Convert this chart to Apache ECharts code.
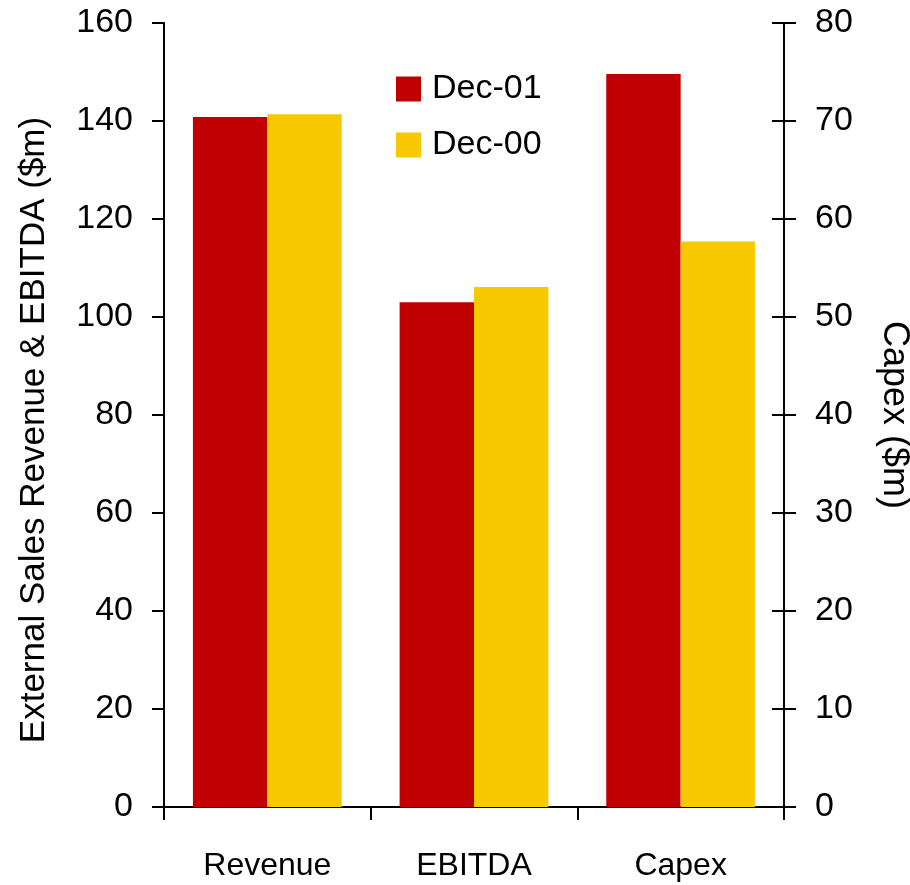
<!DOCTYPE html>
<html>
<head>
<meta charset="utf-8">
<script src="https://cdn.jsdelivr.net/npm/echarts@6/dist/echarts.min.js"></script>
<style>html,body{margin:0;padding:0;background:#fff}#c{width:910px;height:885px}</style>
</head>
<body>
<div id="c"></div>
<script>
var categories = ['Revenue', 'EBITDA', 'Capex'];
var dec01 = [140.8, 103.0, 74.8];
var dec00 = [141.4, 106.1, 57.7];
var leftTicks = [0, 20, 40, 60, 80, 100, 120, 140, 160];
var rightTicks = [0, 10, 20, 30, 40, 50, 60, 70, 80];

var FONT = '"Liberation Sans", Arial, sans-serif';
var RED = '#C00000', YEL = '#F8C800';

function leftPart(arr) { return arr.map(function (v, i) { return i < 2 ? v : '-'; }); }
function rightPart(arr) { return arr.map(function (v, i) { return i === 2 ? v : '-'; }); }

var chart = echarts.init(document.getElementById('c'), null, { renderer: 'canvas' });
var axisLine = { show: true, lineStyle: { color: '#000', width: 2 } };
chart.setOption({
  animation: false,
  textStyle: { fontFamily: FONT },
  grid: { left: 164, right: 126, top: 23, bottom: 78, containLabel: false, outerBoundsMode: 'none' },
  legend: {
    left: 396, top: 72, padding: 0, orient: 'vertical', itemWidth: 25, itemHeight: 25, itemGap: 22,
    icon: 'rect',
    data: ['Dec-01', 'Dec-00'],
    textStyle: { fontFamily: FONT, fontSize: 34, color: '#000', padding: [0, 0, 0, 6] }
  },
  xAxis: [
    {
      type: 'category', data: categories, position: 'bottom',
      axisLine: axisLine,
      axisTick: { show: true, length: 13, lineStyle: { color: '#000', width: 2 } },
      axisLabel: { fontFamily: FONT, fontSize: 32, color: '#000', margin: 43 }
    },
    {
      type: 'category', data: categories, position: 'top',
      axisLine: axisLine,
      axisTick: { show: false }, axisLabel: { show: false }
    }
  ],
  yAxis: [
    {
      type: 'value', min: 0, max: 160, interval: 20, position: 'left',
      name: 'External Sales Revenue & EBITDA ($m)', nameLocation: 'middle', nameGap: 112, nameRotate: 90,
      nameTextStyle: { fontFamily: FONT, fontSize: 35, color: '#000', padding: [0, 30, 0, 0] },
      axisLine: axisLine,
      axisTick: { show: true, length: 12, lineStyle: { color: '#000', width: 2 } },
      axisLabel: { fontFamily: FONT, fontSize: 34, color: '#000', margin: 31,
        formatter: function (v) { return leftTicks.indexOf(v) >= 0 ? String(v) : ''; } },
      splitLine: { show: false }
    },
    {
      type: 'value', min: 0, max: 80, interval: 10, position: 'right',
      name: 'Capex ($m)', nameLocation: 'middle', nameGap: 92, nameRotate: -90,
      nameTextStyle: { fontFamily: FONT, fontSize: 36, color: '#000' },
      axisLine: axisLine,
      axisTick: { show: true, length: 12, lineStyle: { color: '#000', width: 2 } },
      axisLabel: { fontFamily: FONT, fontSize: 34, color: '#000', margin: 31,
        formatter: function (v) { return rightTicks.indexOf(v) >= 0 ? String(v) : ''; } },
      splitLine: { show: false }
    },
    {
      type: 'value', min: 0, max: 80, interval: 10, position: 'right',
      axisLine: { show: false },
      axisTick: { show: true, inside: true, length: 12, lineStyle: { color: '#000', width: 2 } },
      axisLabel: { show: false }, splitLine: { show: false }
    }
  ],
  series: [
    { name: 'Dec-01', type: 'bar', xAxisIndex: 0, yAxisIndex: 0, data: leftPart(dec01),
      itemStyle: { color: RED }, barGap: '0%', barCategoryGap: '28%' },
    { name: 'Dec-00', type: 'bar', xAxisIndex: 0, yAxisIndex: 0, data: leftPart(dec00),
      itemStyle: { color: YEL }, barGap: '0%', barCategoryGap: '28%' },
    { name: 'Dec-01', type: 'bar', xAxisIndex: 1, yAxisIndex: 1, data: rightPart(dec01),
      itemStyle: { color: RED }, barGap: '0%', barCategoryGap: '28%' },
    { name: 'Dec-00', type: 'bar', xAxisIndex: 1, yAxisIndex: 1, data: rightPart(dec00),
      itemStyle: { color: YEL }, barGap: '0%', barCategoryGap: '28%' }
  ]
});
</script>
</body>
</html>
